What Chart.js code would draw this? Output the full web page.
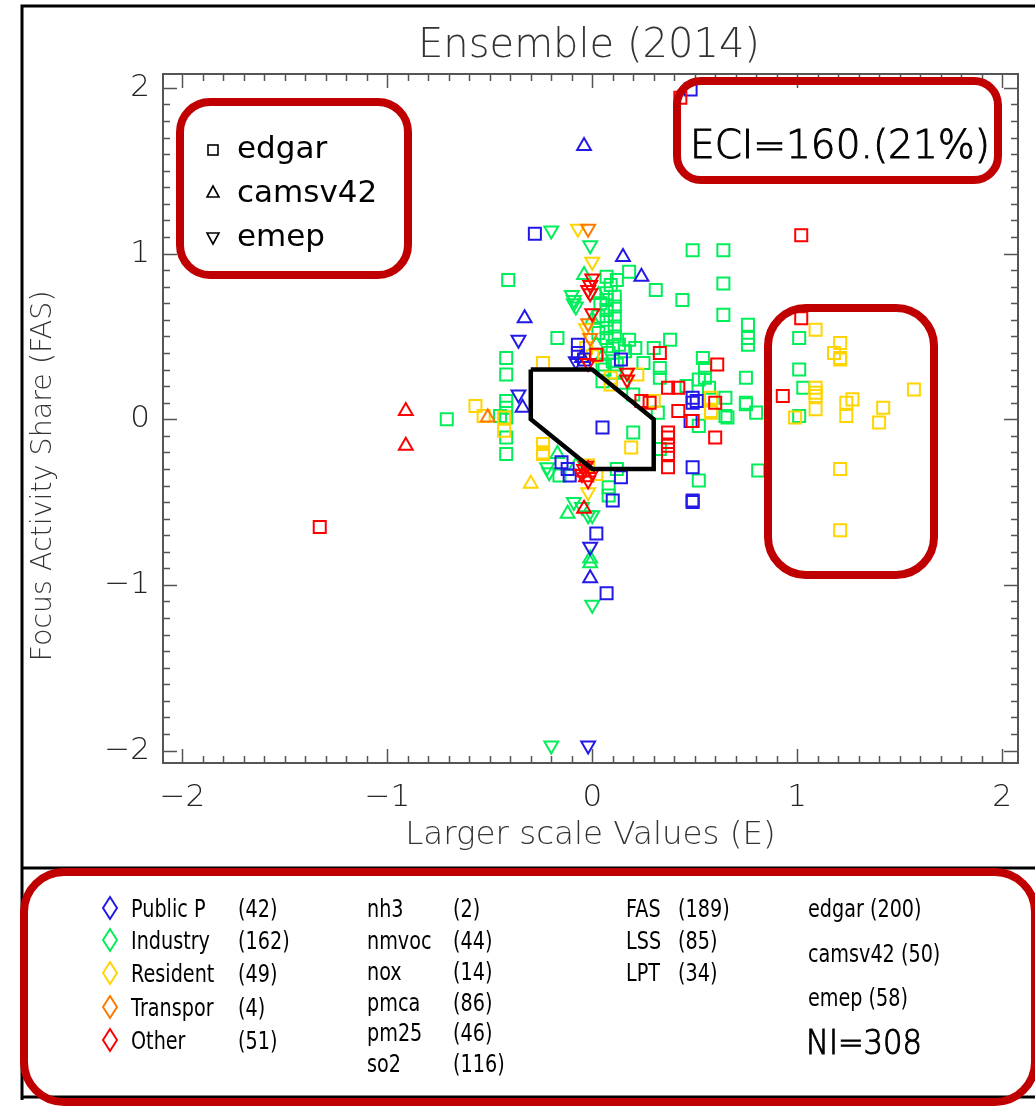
<!DOCTYPE html>
<html><head><meta charset="utf-8">
<script src="https://cdn.jsdelivr.net/npm/chart.js@4"></script>
<style>html,body{margin:0;padding:0;background:#fff;}canvas{display:block;}</style>
</head><body>
<canvas id="c" width="1035" height="1107"></canvas>
<script>
// ---------- data ----------
const chartTitle = 'Ensemble (2014)';
const xTitle = 'Larger scale Values (E)';
const yTitle = 'Focus Activity Share (FAS)';
const xTicks = [-2, -1, 0, 1, 2];
const xTickLabels = ['\u22122', '\u22121', '0', '1', '2'];
const yTicks = [-2, -1, 0, 1, 2];
const yTickLabels = ['\u22122', '\u22121', '0', '1', '2'];

const categories = ['Public P', 'Industry', 'Resident', 'Transpor', 'Other'];
const categoryCounts = [42, 162, 49, 4, 51];
const pollutants = ['nh3', 'nmvoc', 'nox', 'pmca', 'pm25', 'so2'];
const pollutantCounts = [2, 44, 14, 86, 46, 116];
const indicators = ['FAS', 'LSS', 'LPT'];
const indicatorCounts = [189, 85, 34];
const inventories = ['edgar', 'camsv42', 'emep'];
const inventoryCounts = [200, 50, 58];
const totalNI = 308;
const eciLabel = 'ECI=160.(21%)';

const polygonX = [-0.3, 0, 0.3, 0.3, 0, -0.3, -0.3];
const polygonY = [0.3, 0.3, 0, -0.3, -0.3, 0, 0.3];

// points [E, FAS] per category and inventory (edgar = square, camsv42 = up triangle, emep = down triangle)
const publicEdgar = [[0.48,1.99],[-0.28,1.12],[-0.07,0.45],[-0.07,0.40],[0.14,0.36],[0.49,0.13],[0.49,0.10],[0.51,0.11],[0.05,-0.05],[0.49,-0.29],[0.49,-0.49],[0.49,-0.50],[0.14,-0.35],[0.10,-0.49],[-0.11,-0.34],[0.02,-0.69],[0.07,-1.05],[0.48,-0.01],[-0.15,-0.26],[-0.12,-0.30],[-0.04,0.36]];
const publicCams = [[-0.04,1.65],[0.15,0.98],[0.24,0.86],[-0.33,0.61],[-0.34,0.07],[-0.01,-0.96],[-0.05,0.37]];
const publicEmep = [[-0.36,0.48],[-0.36,0.15],[-0.08,0.35],[-0.01,-0.77],[-0.02,-1.97]];

const industryEdgar = [[-0.71,0.0],[-0.41,0.84],[-0.42,0.37],[-0.42,0.27],[-0.42,0.11],[-0.42,0.07],[-0.42,0.01],[-0.42,-0.11],[-0.42,-0.21],[-0.45,0.02],[-0.17,0.49],
 [0.49,1.02],[0.64,1.02],[0.64,0.82],[0.64,0.63],[0.31,0.78],[0.44,0.72],[0.18,0.89],[0.07,0.86],[0.12,0.84],
 [0.76,0.57],[0.76,0.49],[0.76,0.45],[0.18,0.48],[0.21,0.43],[0.38,0.48],[0.30,0.43],[0.25,0.34],[0.33,0.31],[0.33,0.25],
 [0.54,0.37],[0.55,0.31],[0.52,0.24],[0.55,0.25],[0.75,0.25],[0.46,0.20],[0.57,0.19],
 [0.65,0.13],[0.75,0.10],[0.80,0.04],[0.65,0.02],[0.32,0.04],[0.66,0.01],
 [0.52,-0.04],[0.33,-0.18],[0.20,-0.08],[0.52,-0.37],[0.81,-0.31],[0.12,-0.30],[0.08,-0.41],[0.08,-0.46],[-0.16,-0.34],
 [0.75,0.09],[1.01,0.49],[1.01,0.30],[1.03,0.19],[1.01,0.02],
 [0.07,0.76],[0.07,0.72],[0.07,0.66],[0.07,0.60],[0.07,0.55],[0.07,0.49],[0.11,0.74],[0.11,0.68],[0.11,0.62],[0.11,0.56],[0.11,0.50],[0.10,0.44],[0.08,0.40],[0.10,0.35],[0.06,0.30],[0.11,0.28],[0.05,0.33],[0.05,0.23],[0.15,0.22],[0.20,0.15],
 [0.03,0.62],[0.03,0.52],[0.09,0.81],[0.13,0.45],[0.04,0.70],[0.12,0.33],[0.16,0.41]];
const industryCams = [[-0.04,0.87],[-0.12,-0.57],[-0.01,-0.84],[-0.01,-0.87],[-0.17,-0.21],[0.0,0.60],[0.02,0.45],[-0.08,-0.28],[0.03,0.75],[0.05,0.38]];
const industryEmep = [[-0.20,1.14],[-0.01,1.05],[-0.10,0.75],[-0.09,0.70],[-0.09,0.72],[-0.21,-0.32],[-0.09,-0.50],[-0.05,-0.53],[0.0,-0.58],[-0.02,-0.58],[0.0,-1.12],[-0.20,-1.97],[-0.22,-0.29],[-0.08,0.68]];

const residentEdgar = [[-0.57,0.08],[-0.53,0.02],[-0.43,0.01],[-0.43,-0.07],[-0.24,0.34],[-0.24,-0.15],[-0.24,-0.20],[-0.24,-0.21],[0.09,0.25],[0.09,0.21],[0.22,0.27],[0.19,-0.17],[0.58,0.13],[0.58,0.05],[0.58,0.04],[0.30,0.11],
 [1.09,0.54],[1.21,0.46],[1.18,0.40],[1.21,0.37],[1.21,0.36],[1.09,0.19],[1.09,0.16],[1.09,0.14],[1.57,0.18],[1.27,0.12],[1.24,0.10],[1.09,0.06],[1.42,0.07],[1.40,-0.02],[1.24,0.02],[0.99,0.01],[1.21,-0.30],[1.21,-0.67],
 [-0.03,0.43],[0.0,0.38],[-0.02,-0.28],[0.02,-0.33]];
const residentCams = [[-0.30,-0.39]];
const residentEmep = [[-0.07,1.15],[0.0,0.95],[-0.02,-0.44],[-0.03,0.55]];

const transportCams = [[-0.51,0.01]];
const transportEmep = [[-0.02,1.15],[-0.02,0.58],[-0.01,0.49]];

const otherEdgar = [[-1.33,-0.65],[0.43,1.94],[1.02,1.11],[1.02,0.61],[0.93,0.14],[0.33,0.40],[0.02,0.39],[0.61,0.33],[0.37,0.19],[0.42,0.19],[0.60,0.10],[0.42,0.05],[0.49,-0.01],[0.24,0.11],[0.28,0.10],[0.60,-0.11],[0.37,-0.08],[0.37,-0.11],[0.37,-0.16],[0.37,-0.21],[0.37,-0.29]];
const otherCams = [[-0.91,0.05],[-0.91,-0.16],[-0.04,-0.54],[-0.04,-0.32],[-0.03,-0.35],[-0.02,-0.30]];
const otherEmep = [[0.0,0.85],[-0.02,0.78],[-0.01,0.76],[0.0,0.64],[-0.02,0.34],[0.17,0.28],[0.17,0.24],[-0.05,-0.33],[-0.02,-0.37],[-0.04,-0.30],[-0.01,0.81],[-0.03,-0.28],[0.0,-0.32]];

// ---------- styles ----------
const catColors = ['rgb(35,25,230)', 'rgb(0,238,90)', 'rgb(255,212,0)', 'rgb(255,120,0)', 'rgb(255,0,0)'];
const BOX_RED = '#c00000';
const AXIS_GRAY = '#555';
const THIN = '"DejaVu Sans", sans-serif';

function pts(a){ return a.map(p => ({x: p[0], y: p[1]})); }
function ds(arr, catIdx, shape){
  return {
    data: pts(arr),
    borderColor: catColors[catIdx],
    backgroundColor: 'rgba(0,0,0,0)',
    pointBorderWidth: 2,
    pointStyle: shape === 'sq' ? 'rect' : 'triangle',
    pointRotation: shape === 'dn' ? 180 : 0,
    pointRadius: shape === 'sq' ? 8.5 : 8,
    showLine: false
  };
}

const datasets = [
  { type: 'line', data: polygonX.map((v, i) => ({x: v, y: polygonY[i]})), borderColor: '#000', borderWidth: 4.5,
    pointRadius: 0, fill: false, tension: 0, showLine: true, borderJoinStyle: 'miter' },
  ds(otherEdgar, 4, 'sq'), ds(otherCams, 4, 'up'), ds(otherEmep, 4, 'dn'),
  ds(transportCams, 3, 'up'), ds(transportEmep, 3, 'dn'),
  ds(publicEdgar, 0, 'sq'), ds(publicCams, 0, 'up'), ds(publicEmep, 0, 'dn'),
  ds(residentEdgar, 2, 'sq'), ds(residentCams, 2, 'up'), ds(residentEmep, 2, 'dn'),
  ds(industryEdgar, 1, 'sq'), ds(industryCams, 1, 'up'), ds(industryEmep, 1, 'dn')
];

function roundRect(ctx, l, t, r, b, rad){
  ctx.beginPath();
  ctx.moveTo(l + rad, t);
  ctx.lineTo(r - rad, t); ctx.arcTo(r, t, r, t + rad, rad);
  ctx.lineTo(r, b - rad); ctx.arcTo(r, b, r - rad, b, rad);
  ctx.lineTo(l + rad, b); ctx.arcTo(l, b, l, b - rad, rad);
  ctx.lineTo(l, t + rad); ctx.arcTo(l, t, l + rad, t, rad);
  ctx.closePath();
  ctx.stroke();
}
function squeezeText(ctx, s, x, y, sx, stroke){
  ctx.save(); ctx.translate(x, y); ctx.scale(sx, 1); ctx.fillText(s, 0, 0);
  if (stroke) ctx.strokeText(s, 0, 0);
  ctx.restore();
}

const framePlugin = {
  id: 'framePlugin',
  beforeDraw(chart){
    const ctx = chart.ctx;
    ctx.save();
    ctx.fillStyle = '#fff';
    ctx.fillRect(0, 0, chart.width, chart.height);
    ctx.strokeStyle = '#000'; ctx.lineWidth = 3;
    ctx.beginPath();
    ctx.moveTo(1035, 6); ctx.lineTo(22, 6); ctx.lineTo(22, 1100);
    ctx.moveTo(22, 868); ctx.lineTo(1035, 868);
    ctx.moveTo(22, 1097); ctx.lineTo(1035, 1097);
    ctx.stroke();
    // title
    ctx.fillStyle = '#333';
    ctx.font = '200 40px ' + THIN;
    ctx.textAlign = 'center'; ctx.textBaseline = 'alphabetic';
    ctx.fillText(chartTitle, 589, 57);
    // y axis title
    ctx.save();
    ctx.translate(51, 476); ctx.rotate(-Math.PI / 2);
    ctx.font = '200 28.5px ' + THIN;
    ctx.fillText(yTitle, 0, 0);
    ctx.restore();
    ctx.restore();
  },
  afterDatasetsDraw(chart){
    const {ctx, chartArea: a, scales: {x, y}} = chart;
    ctx.save();
    ctx.strokeStyle = AXIS_GRAY;
    ctx.lineWidth = 2;
    ctx.strokeRect(a.left, a.top, a.right - a.left, a.bottom - a.top);
    ctx.lineWidth = 1.5;
    ctx.beginPath();
    for (let i = -20; i <= 20; i++){
      const v = i / 10, L = (i % 10 === 0) ? 14 : 7;
      const px = Math.round(x.getPixelForValue(v)) + 0.5;
      ctx.moveTo(px, a.bottom); ctx.lineTo(px, a.bottom - L);
      ctx.moveTo(px, a.top); ctx.lineTo(px, a.top + L);
      const py = Math.round(y.getPixelForValue(v)) + 0.5;
      ctx.moveTo(a.left, py); ctx.lineTo(a.left + L, py);
      ctx.moveTo(a.right, py); ctx.lineTo(a.right - L, py);
    }
    ctx.stroke();
    ctx.restore();
  },
  afterDraw(chart){
    const ctx = chart.ctx;
    ctx.save();
    // red boxes
    ctx.strokeStyle = BOX_RED; ctx.lineWidth = 8;
    roundRect(ctx, 180, 102, 408, 275, 30);
    roundRect(ctx, 677, 81, 998, 180, 24);
    roundRect(ctx, 768, 308, 934, 575, 38);
    roundRect(ctx, 24, 872, 1035, 1102, 40);

    // top-left inventory legend
    ctx.strokeStyle = '#000'; ctx.lineWidth = 1.6;
    ctx.strokeRect(208, 145, 10, 10);
    ctx.beginPath(); ctx.moveTo(213, 186); ctx.lineTo(219, 197); ctx.lineTo(207, 197); ctx.closePath(); ctx.stroke();
    ctx.beginPath(); ctx.moveTo(207, 233); ctx.lineTo(219, 233); ctx.lineTo(213, 244); ctx.closePath(); ctx.stroke();
    ctx.fillStyle = '#000';
    ctx.font = '31px ' + THIN;
    ctx.textAlign = 'left'; ctx.textBaseline = 'alphabetic';
    ctx.fillText(inventories[0], 237, 158);
    ctx.fillText(inventories[1], 237, 202);
    ctx.fillText(inventories[2], 237, 246);

    // ECI
    ctx.font = '200 39px ' + THIN;
    ctx.textAlign = 'center';
    ctx.lineWidth = 0.9; ctx.strokeStyle = '#000';
    ctx.fillText(eciLabel, 840, 158);
    ctx.strokeText(eciLabel, 840, 158);

    // bottom legend
    ctx.textAlign = 'left';
    ctx.font = '24px ' + THIN;
    const SX = 0.8;
    const rows1 = [908, 940, 973, 1007, 1040];
    categories.forEach((c, i) => {
      const cy = rows1[i];
      ctx.strokeStyle = catColors[i]; ctx.lineWidth = 2;
      ctx.beginPath(); ctx.moveTo(110, cy - 11); ctx.lineTo(117, cy); ctx.lineTo(110, cy + 11); ctx.lineTo(103, cy); ctx.closePath(); ctx.stroke();
      ctx.fillStyle = '#000';
      squeezeText(ctx, c, 131, cy + 9, SX);
      squeezeText(ctx, '(' + categoryCounts[i] + ')', 238, cy + 9, SX);
    });
    const rows2 = [908, 940, 971, 1002, 1032, 1063];
    pollutants.forEach((p, i) => {
      squeezeText(ctx, p, 367, rows2[i] + 9, SX);
      squeezeText(ctx, '(' + pollutantCounts[i] + ')', 453, rows2[i] + 9, SX);
    });
    const rows3 = [908, 940, 972];
    indicators.forEach((p, i) => {
      squeezeText(ctx, p, 626, rows3[i] + 9, SX);
      squeezeText(ctx, '(' + indicatorCounts[i] + ')', 678, rows3[i] + 9, SX);
    });
    const rows4 = [908, 953, 997];
    inventories.forEach((p, i) => {
      squeezeText(ctx, p + ' (' + inventoryCounts[i] + ')', 808, rows4[i] + 9, SX);
    });
    ctx.font = '200 34px ' + THIN;
    ctx.strokeStyle = '#000'; ctx.lineWidth = 1;
    squeezeText(ctx, 'NI=' + totalNI, 806, 1054, 0.9, true);
    ctx.restore();
  }
};

new Chart(document.getElementById('c'), {
  type: 'scatter',
  data: { datasets },
  plugins: [framePlugin],
  options: {
    responsive: false,
    animation: false,
    events: [],
    devicePixelRatio: 1,
    layout: { padding: { left: 20, right: 17, top: 74, bottom: 244 } },
    plugins: { legend: { display: false }, tooltip: { enabled: false }, title: { display: false } },
    scales: {
      x: {
        type: 'linear', min: -2.095, max: 2.078,
        afterBuildTicks: s => { s.ticks = xTicks.map(v => ({value: v})); },
        afterFit: s => { s.height = 100; },
        grid: { display: false, drawTicks: false },
        border: { display: false },
        ticks: { padding: 16, color: '#222', font: { family: THIN, size: 31, weight: 200 },
                 callback: v => xTickLabels[xTicks.indexOf(v)], maxRotation: 0, autoSkip: false },
        title: { display: true, text: xTitle, color: '#333', font: { family: THIN, size: 32.5, weight: 200 }, padding: { top: 0, bottom: 8 } }
      },
      y: {
        type: 'linear', min: -2.075, max: 2.084,
        afterBuildTicks: s => { s.ticks = yTicks.map(v => ({value: v})); },
        afterFit: s => { s.width = 143; },
        grid: { display: false, drawTicks: false },
        border: { display: false },
        ticks: { padding: 13, color: '#222', font: { family: THIN, size: 31, weight: 200 },
                 callback: v => yTickLabels[yTicks.indexOf(v)], autoSkip: false },
        title: { display: false }
      }
    }
  }
});
</script>
</body></html>
